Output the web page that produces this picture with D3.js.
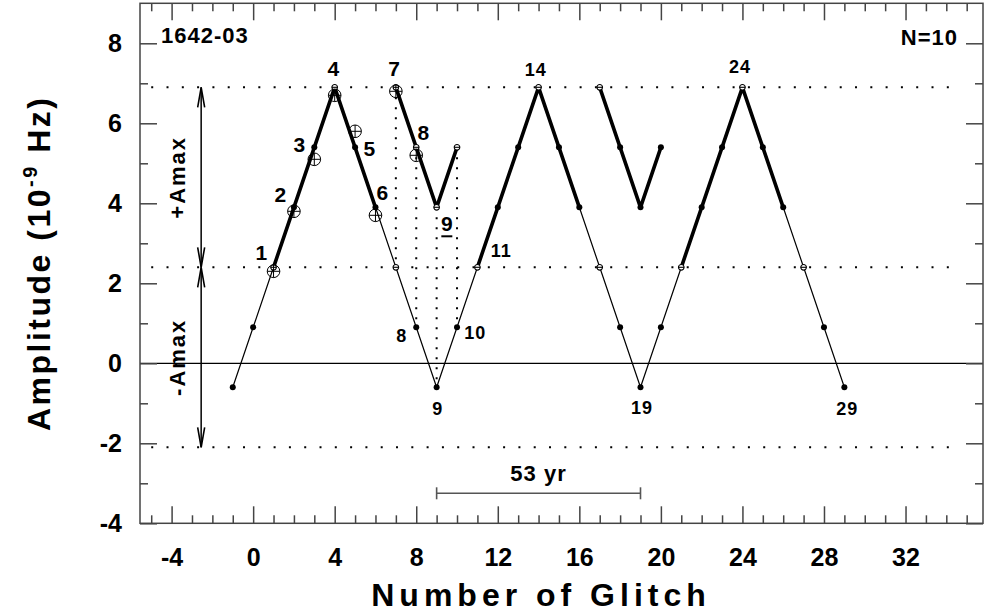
<!DOCTYPE html>
<html lang="en">
<head>
  <meta charset="UTF-8">
  <title>1642-03 glitch amplitudes</title>
  <script src="https://d3js.org/d3.v7.min.js"></script>
  <style>
    body { margin: 0; background: #fff; }
    svg text { font-family: "Liberation Sans", Arial, sans-serif; font-weight: bold; fill: #000; }
  </style>
</head>
<body>
<div id="chart"></div>
<script>
// model triangle wave (glitch number vs amplitude)
const modelN = [-1, 0, 1, 2, 3, 4, 5, 6, 7, 8, 9, 10, 11, 12, 13, 14, 15, 16, 17, 18, 19, 20, 21, 22, 23, 24, 25, 26, 27, 28, 29];
const modelA = [-0.6, 0.9, 2.4, 3.9, 5.4, 6.9, 5.4, 3.9, 2.4, 0.9, -0.6, 0.9, 2.4, 3.9, 5.4, 6.9, 5.4, 3.9, 2.4, 0.9, -0.6, 0.9, 2.4, 3.9, 5.4, 6.9, 5.4, 3.9, 2.4, 0.9, -0.6];
// parts of the wave drawn heavy
const branchN = [[1, 2, 3, 4, 5, 6], [11, 12, 13, 14, 15, 16], [21, 22, 23, 24, 25, 26]];
// folded (reflected) branches
const foldN = [[7, 8, 9, 10], [17, 18, 19, 20]];
const foldA = [[6.9, 5.4, 3.9, 5.4], [6.9, 5.4, 3.9, 5.4]];
// observed glitches
const obsN = [1, 2, 3, 4, 5, 6, 7, 8];
const obsA = [2.3, 3.8, 5.1, 6.7, 5.8, 3.7, 6.8, 5.2];
// Amax levels and arrows
const levelA = [6.9, 2.4, -2.1];
const arrowN = -2.55;
const arrowFrom = [6.9, 2.4];
const arrowTo = [2.4, -2.1];
const arrowText = ["+Amax", "-Amax"];
const arrowTextN = -3.35;
// point numbers
const labelText = ["1", "2", "3", "4", "5", "6", "7", "8", "9", "8", "10", "9", "11", "14", "19", "24", "29"];
const labelN = [0.4, 1.33, 2.26, 3.93, 5.7, 6.34, 6.91, 8.35, 9.5, 7.29, 10.9, 9.05, 12.17, 13.86, 19.07, 23.88, 29.14];
const labelA = [2.77, 4.22, 5.48, 7.38, 5.36, 4.27, 7.38, 5.77, 3.5, 0.7, 0.78, -1.14, 2.81, 7.35, -1.11, 7.41, -1.14];
const labelBig = [1, 1, 1, 1, 1, 1, 1, 1, 1, 0, 0, 0, 0, 0, 0, 0, 0];
const labelUnder = [0, 0, 0, 0, 0, 0, 0, 0, 1, 0, 0, 0, 0, 0, 0, 0, 0];
// period bar
const spanN = [9, 19];
const spanA = -3.25;
const spanText = "53 yr";
// ticks
const xTicks = [-4, 0, 4, 8, 12, 16, 20, 24, 28, 32];
const xMinor = [-5, -3, -2, -1, 1, 2, 3, 5, 6, 7, 9, 10, 11, 13, 14, 15, 17, 18, 19, 21, 22, 23, 25, 26, 27, 29, 30, 31, 33, 34, 35];
const yTicks = [-4, -2, 0, 2, 4, 6, 8];
const yMinor = [-3, -1, 1, 3, 5, 7];

const width = 984, height = 616;
const padL = 140, padR = 983, padT = 3.3, padB = 523.3;

const svg = d3.select("#chart").append("svg")
  .attr("width", width)
  .attr("height", height);

const x = d3.scaleLinear().domain([-5.55, 35.8]).range([padL, padR]);
const y = d3.scaleLinear().domain([-4, 9]).range([padB, padT]);

const line = d3.line().x(d => x(d[0])).y(d => y(d[1]));
const modelPts = modelN.map((n, i) => [n, modelA[i]]);
const valueAt = n => modelA[modelN.indexOf(n)];

// dotted Amax levels
svg.selectAll(".level")
  .data(levelA)
  .enter().append("line")
  .attr("x1", x(-5)).attr("x2", x(34.5))
  .attr("y1", d => y(d)).attr("y2", d => y(d))
  .attr("stroke", "#000")
  .attr("stroke-width", 2)
  .attr("stroke-dasharray", "2 13.3");

// dotted projections from folded points to the wave
const proj = [];
foldN[0].forEach((n, i) => proj.push([n, foldA[0][i], valueAt(n)]));
svg.selectAll(".proj")
  .data(proj)
  .enter().append("line")
  .attr("x1", d => x(d[0])).attr("x2", d => x(d[0]))
  .attr("y1", d => y(d[1])).attr("y2", d => y(d[2]))
  .attr("stroke", "#000")
  .attr("stroke-width", 2)
  .attr("stroke-dasharray", "2 8");

// zero line
svg.append("line")
  .attr("x1", padL).attr("x2", padR)
  .attr("y1", y(0)).attr("y2", y(0))
  .attr("stroke", "#000").attr("stroke-width", 1.3);

// thin wave
svg.append("path")
  .attr("d", line(modelPts))
  .attr("fill", "none").attr("stroke", "#000").attr("stroke-width", 1.2);

// heavy branches
svg.selectAll(".branch")
  .data(branchN)
  .enter().append("path")
  .attr("d", b => line(b.map(n => [n, valueAt(n)])))
  .attr("fill", "none").attr("stroke", "#000").attr("stroke-width", 3.6)
  .attr("stroke-linejoin", "round");

svg.selectAll(".fold")
  .data(foldN)
  .enter().append("path")
  .attr("d", (f, j) => line(f.map((n, i) => [n, foldA[j][i]])))
  .attr("fill", "none").attr("stroke", "#000").attr("stroke-width", 3.6)
  .attr("stroke-linejoin", "round");

// markers
const onLevel = a => Math.abs(a - 6.9) < 0.01 || Math.abs(a - 2.4) < 0.01;
const marks = modelPts.map(p => ({ n: p[0], a: p[1], open: onLevel(p[1]) }));
foldN.forEach((f, j) => f.forEach((n, i) => marks.push({ n: n, a: foldA[j][i], open: j === 0 || onLevel(foldA[j][i]) })));

svg.selectAll(".dot")
  .data(marks.filter(m => !m.open))
  .enter().append("circle")
  .attr("cx", d => x(d.n)).attr("cy", d => y(d.a))
  .attr("r", 3).attr("fill", "#000");

const openG = svg.selectAll(".open")
  .data(marks.filter(m => m.open))
  .enter().append("g")
  .attr("transform", d => `translate(${x(d.n)},${y(d.a)})`);
openG.append("circle").attr("r", 2.8).attr("fill", "#fff").attr("stroke", "#000").attr("stroke-width", 1.1);
openG.append("line").attr("x1", -2.8).attr("x2", 2.8).attr("stroke", "#000").attr("stroke-width", 1.1);

// observed glitches
const obsG = svg.selectAll(".obs")
  .data(obsN.map((n, i) => [n, obsA[i]]))
  .enter().append("g")
  .attr("transform", d => `translate(${x(d[0])},${y(d[1])})`);
obsG.append("circle").attr("r", 6.3).attr("fill", "none").attr("stroke", "#000").attr("stroke-width", 1);
obsG.append("line").attr("x1", -6.3).attr("x2", 6.3).attr("stroke", "#000").attr("stroke-width", 1);
obsG.append("line").attr("y1", -6.3).attr("y2", 6.3).attr("stroke", "#000").attr("stroke-width", 1);

// point numbers
svg.selectAll(".num")
  .data(labelText.map((t, i) => ({ t: t, n: labelN[i], a: labelA[i], big: labelBig[i], u: labelUnder[i] })))
  .enter().append("text")
  .attr("x", d => x(d.n)).attr("y", d => y(d.a))
  .attr("dy", "0.36em")
  .attr("text-anchor", "middle")
  .attr("font-size", d => d.big ? 21 : 18)
  .attr("letter-spacing", d => d.big ? 0 : 1)
  .text(d => d.t);

svg.selectAll(".under")
  .data(labelText.map((t, i) => ({ n: labelN[i], a: labelA[i], u: labelUnder[i] })).filter(d => d.u))
  .enter().append("line")
  .attr("x1", d => x(d.n) - 5.5).attr("x2", d => x(d.n) + 5.5)
  .attr("y1", d => y(d.a) + 13).attr("y2", d => y(d.a) + 13)
  .attr("stroke", "#000").attr("stroke-width", 2);

// Amax arrows
arrowFrom.forEach((a0, i) => {
  const a1 = arrowTo[i];
  const xa = x(arrowN), y0 = y(a0), y1 = y(a1);
  svg.append("line")
    .attr("x1", xa).attr("x2", xa).attr("y1", y0).attr("y2", y1)
    .attr("stroke", "#000").attr("stroke-width", 1.5);
  svg.append("path")
    .attr("d", `M${xa - 3.5},${y0 + 20}L${xa},${y0}L${xa + 3.5},${y0 + 20}M${xa - 3.5},${y1 - 20}L${xa},${y1}L${xa + 3.5},${y1 - 20}`)
    .attr("fill", "none").attr("stroke", "#000").attr("stroke-width", 1.6);
  svg.append("text")
    .attr("transform", `translate(${x(arrowTextN)},${y((a0 + a1) / 2)}) rotate(-90)`)
    .attr("text-anchor", "middle")
    .attr("font-size", 22)
    .attr("letter-spacing", 2)
    .text(arrowText[i]);
});

// 53 yr bar
const bar = svg.append("g").attr("stroke", "#555").attr("stroke-width", 1.6);
bar.append("line").attr("x1", x(spanN[0])).attr("x2", x(spanN[1])).attr("y1", y(spanA)).attr("y2", y(spanA));
spanN.forEach(n => bar.append("line").attr("x1", x(n)).attr("x2", x(n)).attr("y1", y(spanA) - 6).attr("y2", y(spanA) + 6));
svg.append("text")
  .attr("x", x((spanN[0] + spanN[1]) / 2)).attr("y", y(spanA + 0.5))
  .attr("dy", "0.36em")
  .attr("text-anchor", "middle")
  .attr("font-size", 22).attr("letter-spacing", 1)
  .text(spanText);

// corner texts
svg.append("text").attr("x", padL + 21).attr("y", 43)
  .attr("font-size", 22).attr("letter-spacing", 1).text("1642-03");
svg.append("text").attr("x", padR - 25).attr("y", 45)
  .attr("text-anchor", "end")
  .attr("font-size", 22).attr("letter-spacing", 1).text("N=10");

// axes (ticks pointing inward on all sides)
function styleAxis(g) {
  g.select(".domain").remove();
  g.selectAll(".tick line").attr("stroke", "#444").attr("stroke-width", 1.5);
  g.selectAll("text").attr("font-family", null).attr("font-size", 25).attr("fill", "#000");
}
svg.append("g").attr("transform", `translate(0,${padB})`)
  .call(d3.axisBottom(x).tickValues(xTicks).tickSize(-17).tickPadding(25).tickFormat(d => String(d)))
  .call(styleAxis);
svg.append("g").attr("transform", `translate(0,${padB})`)
  .call(d3.axisBottom(x).tickValues(xMinor).tickSize(-8).tickFormat(""))
  .call(styleAxis);
svg.append("g").attr("transform", `translate(0,${padT})`)
  .call(d3.axisTop(x).tickValues(xTicks).tickSize(-17).tickFormat(""))
  .call(styleAxis);
svg.append("g").attr("transform", `translate(0,${padT})`)
  .call(d3.axisTop(x).tickValues(xMinor).tickSize(-8).tickFormat(""))
  .call(styleAxis);
svg.append("g").attr("transform", `translate(${padL},0)`)
  .call(d3.axisLeft(y).tickValues(yTicks).tickSize(-17).tickPadding(18).tickFormat(d => String(d)))
  .call(styleAxis);
svg.append("g").attr("transform", `translate(${padL},0)`)
  .call(d3.axisLeft(y).tickValues(yMinor).tickSize(-8).tickFormat(""))
  .call(styleAxis);
svg.append("g").attr("transform", `translate(${padR},0)`)
  .call(d3.axisRight(y).tickValues(yTicks).tickSize(-17).tickFormat(""))
  .call(styleAxis);
svg.append("g").attr("transform", `translate(${padR},0)`)
  .call(d3.axisRight(y).tickValues(yMinor).tickSize(-8).tickFormat(""))
  .call(styleAxis);

svg.append("rect")
  .attr("x", padL).attr("y", padT)
  .attr("width", padR - padL).attr("height", padB - padT)
  .attr("fill", "none").attr("stroke", "#444").attr("stroke-width", 1.5);

// axis titles
svg.append("text")
  .attr("x", 541).attr("y", 606)
  .attr("text-anchor", "middle")
  .attr("font-size", 32).attr("letter-spacing", 5)
  .text("Number of Glitch");

const yt = svg.append("text")
  .attr("transform", `translate(50,${(padT + padB) / 2}) rotate(-90)`)
  .attr("text-anchor", "middle")
  .attr("font-size", 32).attr("letter-spacing", 2.5);
yt.append("tspan").text("Amplitude (10");
yt.append("tspan").attr("font-size", 20).attr("dy", -13).text("-9");
yt.append("tspan").attr("dy", 13).text(" Hz)");
</script>
</body>
</html>
